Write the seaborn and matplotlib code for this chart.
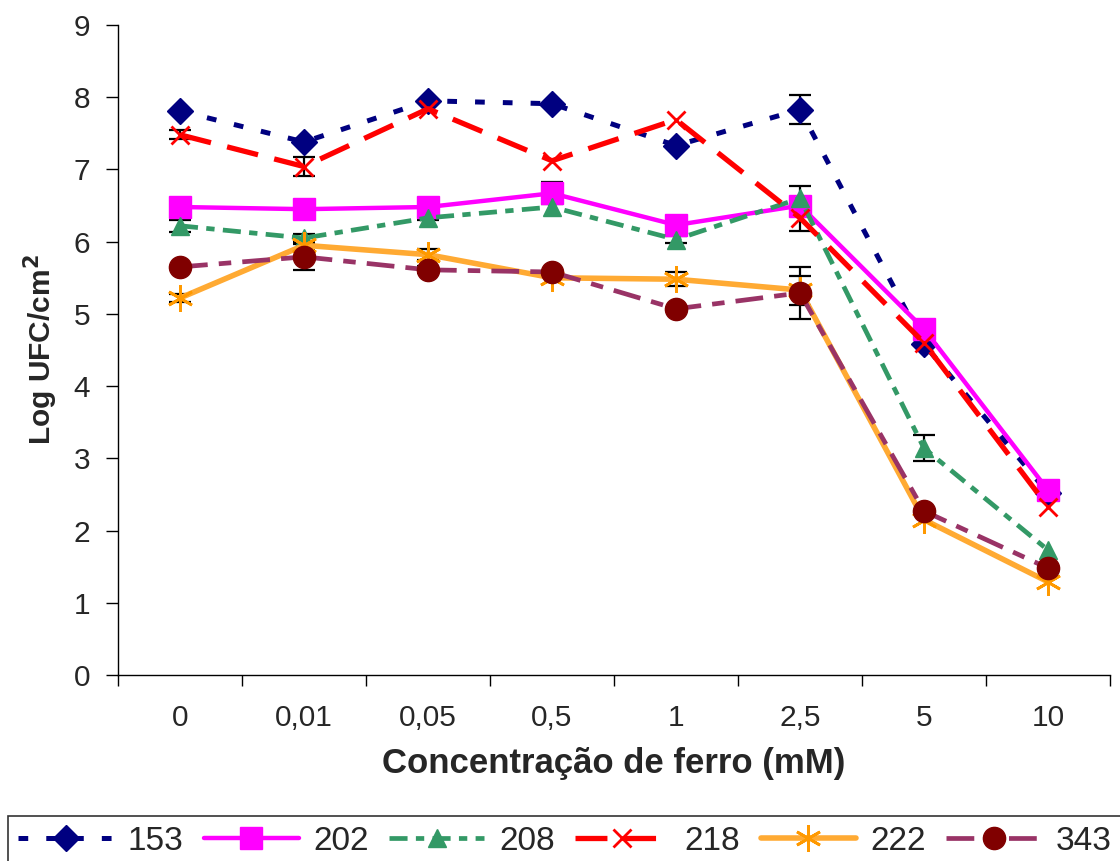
import numpy as np
import pandas as pd
import matplotlib
matplotlib.use("Agg")
import matplotlib.pyplot as plt
import seaborn as sns

# ---- data ----
categories = ["0", "0,01", "0,05", "0,5", "1", "2,5", "5", "10"]
series_names = ["153", "202", "208", "218", "222", "343"]

v153 = [7.81, 7.38, 7.95, 7.91, 7.33, 7.83, 4.58, 2.52]
v202 = [6.48, 6.45, 6.48, 6.67, 6.23, 6.50, 4.79, 2.56]
v208 = [6.22, 6.05, 6.33, 6.48, 6.03, 6.60, 3.14, 1.73]
v218 = [7.48, 7.04, 7.84, 7.12, 7.69, 6.33, 4.60, 2.33]
v222 = [5.22, 5.95, 5.82, 5.50, 5.48, 5.33, 2.15, 1.29]
v343 = [5.65, 5.79, 5.61, 5.58, 5.07, 5.29, 2.27, 1.48]

e153 = [0.0, 0.0, 0.0, 0.0, 0.0, 0.20, 0.0, 0.0]
e202 = [0.0, 0.0, 0.0, 0.15, 0.0, 0.0, 0.0, 0.0]
e208 = [0.08, 0.05, 0.03, 0.0, 0.05, 0.17, 0.18, 0.0]
e218 = [0.06, 0.13, 0.0, 0.0, 0.0, 0.18, 0.0, 0.0]
e222 = [0.05, 0.06, 0.08, 0.0, 0.10, 0.20, 0.0, 0.0]
e343 = [0.0, 0.18, 0.05, 0.0, 0.0, 0.36, 0.0, 0.0]

values = [v153, v202, v208, v218, v222, v343]
errors = [e153, e202, e208, e218, e222, e343]

# ---- styles ----
styles = {
    "153": dict(color="#000080", marker="D", markersize=13, lw=3.6,
                ls=(0, (7, 13)), mfc="#000080", mec="#000080", mew=1),
    "202": dict(color="#FF00FF", marker="s", markersize=16, lw=3.2,
                ls="-", mfc="#FF00FF", mec="#FF00FF", mew=1),
    "208": dict(color="#339966", marker="^", markersize=13, lw=3.4,
                ls=(0, (13, 6, 6, 6)), mfc="#339966", mec="#339966", mew=1),
    "218": dict(color="#FF0000", marker="x", markersize=13, lw=3.8,
                ls=(0, (23, 12)), mfc="#FF0000", mec="#FF0000", mew=2),
    "222": dict(color="#FFAA33", marker=(6, 2, 0), markersize=19, lw=4.0,
                ls="-", mfc="#FF9900", mec="#FF9900", mew=2),
    "343": dict(color="#993366", marker="o", markersize=16, lw=3.4,
                ls=(0, (20, 8, 9, 8)), mfc="#800000", mec="#800000", mew=1),
}

sns.set_theme(style="ticks")
plt.rcParams["font.family"] = ["Liberation Sans", "DejaVu Sans"]
plt.rcParams["lines.scale_dashes"] = False

fig = plt.figure(figsize=(11.2, 8.61), dpi=100)
ax = fig.add_axes([118 / 1120, 1 - 675 / 861, (1110 - 118) / 1120, (675 - 25) / 861])

x = np.arange(len(categories))

# error bars (under the markers)
for vals, errs in zip(values, errors):
    errs = np.array(errs)
    m = errs > 0
    ax.errorbar(x[m], np.array(vals)[m], yerr=errs[m], fmt="none",
                ecolor="black", elinewidth=1.6, capsize=8, capthick=1.6, zorder=1)

for name, vals in zip(series_names, values):
    st = styles[name]
    df = pd.DataFrame({"x": x, "y": vals})
    sns.lineplot(data=df, x="x", y="y", ax=ax, color=st["color"], linewidth=st["lw"],
                 linestyle=st["ls"], marker=st["marker"], markersize=st["markersize"],
                 markerfacecolor=st["mfc"], markeredgecolor=st["mec"],
                 markeredgewidth=st["mew"], label=name, zorder=2, legend=False)

ax.set_xlim(-0.5, len(categories) - 0.5)
ax.set_ylim(0, 9)
ax.set_yticks(range(0, 10))
ax.set_xticks(np.arange(-0.5, len(categories), 1.0))
ax.set_xticklabels([])
ax.set_xticks(x, minor=True)
ax.set_xticklabels(categories, minor=True)
ax.tick_params(axis="x", which="minor", length=0, pad=21, labelsize=21.5)
ax.tick_params(axis="x", which="major", length=8, width=1, color="black", direction="out")
ax.tick_params(axis="y", length=9, width=1, color="black", direction="out", labelsize=21.5, pad=11)
for s in ["top", "right"]:
    ax.spines[s].set_visible(False)
for s in ["left", "bottom"]:
    ax.spines[s].set_color("black")
    ax.spines[s].set_linewidth(1)
ax.grid(False)

ax.set_xlabel("Concentração de ferro (mM)", fontsize=25, fontweight="bold", labelpad=11)
ax.set_ylabel("Log UFC/cm$^\\mathbf{2}$", fontsize=21.5, fontweight="bold", labelpad=10)

handles = ax.lines[-len(series_names):]
leg = fig.legend(handles=handles, labels=series_names, loc="upper left",
                 bbox_to_anchor=(8 / 1120, 1 - 816 / 861), ncol=6, frameon=True,
                 fancybox=False, edgecolor="black", fontsize=24, handlelength=2.85,
                 handletextpad=0.45, columnspacing=0.6, borderaxespad=0, borderpad=0.3)
leg.get_frame().set_linewidth(1.2)

fig.savefig("out.png", dpi=100)
